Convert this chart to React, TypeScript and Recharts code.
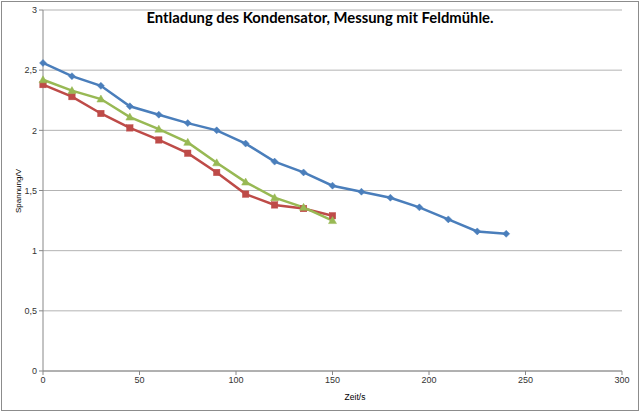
import React from 'react';
import { LineChart, Line, XAxis, YAxis, CartesianGrid } from 'recharts';

const blueTimes = [0, 15, 30, 45, 60, 75, 90, 105, 120, 135, 150, 165, 180, 195, 210, 225, 240];
const blueValues = [2.56, 2.45, 2.37, 2.2, 2.13, 2.06, 2.0, 1.89, 1.74, 1.65, 1.54, 1.49, 1.44, 1.36, 1.26, 1.16, 1.14];
const redTimes = [0, 15, 30, 45, 60, 75, 90, 105, 120, 135, 150];
const redValues = [2.38, 2.28, 2.14, 2.02, 1.92, 1.81, 1.65, 1.47, 1.38, 1.35, 1.29];
const greenTimes = [0, 15, 30, 45, 60, 75, 90, 105, 120, 135, 150];
const greenValues = [2.42, 2.33, 2.26, 2.11, 2.01, 1.9, 1.73, 1.57, 1.44, 1.36, 1.25];
const xTicks = [0, 50, 100, 150, 200, 250, 300];
const yTicks = [0, 0.5, 1, 1.5, 2, 2.5, 3];

const titleText = 'Entladung des Kondensator, Messung mit Feldmühle.';
const xLabel = 'Zeit/s';
const yLabel = 'Spannung/V';

const BLUE = '#4A7EBB';
const RED = '#BE4B48';
const GREEN = '#98B954';

const toPoints = (xs: number[], ys: number[]) => xs.map((t, i) => ({ t, v: ys[i] }));
const blueData = toPoints(blueTimes, blueValues);
const redData = toPoints(redTimes, redValues);
const greenData = toPoints(greenTimes, greenValues);

const fmt = (v: number) => String(v).replace('.', ',');

const Diamond = (props: any) => {
  const { cx, cy } = props;
  if (cx == null || cy == null) return null;
  const r = 3.5;
  return <path d={`M${cx},${cy - r}L${cx + r},${cy}L${cx},${cy + r}L${cx - r},${cy}Z`} fill={BLUE} stroke={BLUE} strokeWidth={0.5} />;
};
const Square = (props: any) => {
  const { cx, cy } = props;
  if (cx == null || cy == null) return null;
  const r = 3.2;
  return <rect x={cx - r} y={cy - r} width={2 * r} height={2 * r} fill={RED} stroke={RED} strokeWidth={0.5} />;
};
const Triangle = (props: any) => {
  const { cx, cy } = props;
  if (cx == null || cy == null) return null;
  const r = 4;
  return <path d={`M${cx},${cy - r}L${cx + r},${cy + r * 0.75}L${cx - r},${cy + r * 0.75}Z`} fill={GREEN} stroke={GREEN} strokeWidth={0.5} />;
};

const tickStyle = { fontSize: 9, fill: '#333', fontFamily: 'Liberation Sans, Arial, sans-serif' };

export default function App() {
  return (
    <div style={{ position: 'absolute', left: 0, top: 0, width: 640, height: 414, background: '#fff' }}>
      <LineChart
        width={640}
        height={414}
        margin={{ top: 10, right: 18, bottom: 12, left: 0 }}
      >
        <CartesianGrid horizontal vertical={false} stroke="#B3B3B3" strokeWidth={1} />
        <XAxis
          dataKey="t"
          type="number"
          domain={[0, 300]}
          ticks={xTicks}
          allowDuplicatedCategory={false}
          stroke="#888"
          tickLine={{ stroke: '#888' }}
          tickSize={4}
          tick={tickStyle}
          height={31}
        />
        <YAxis
          dataKey="v"
          type="number"
          domain={[0, 3]}
          ticks={yTicks}
          tickFormatter={fmt}
          stroke="#888"
          tickLine={{ stroke: '#888' }}
          tickSize={4}
          tick={tickStyle}
          width={43}
        />
        <Line data={blueData} dataKey="v" stroke={BLUE} strokeWidth={2.5} dot={<Diamond />} activeDot={false} isAnimationActive={false} />
        <Line data={redData} dataKey="v" stroke={RED} strokeWidth={2.5} dot={<Square />} activeDot={false} isAnimationActive={false} />
        <Line data={greenData} dataKey="v" stroke={GREEN} strokeWidth={2.5} dot={<Triangle />} activeDot={false} isAnimationActive={false} />
      </LineChart>
      <svg width={640} height={414} style={{ position: 'absolute', left: 0, top: 0, pointerEvents: 'none' }}>
        <rect x={1.5} y={1.5} width={637} height={409} fill="none" stroke="#8C8C8C" strokeWidth={1} />
        <text x={320} y={23} textAnchor="middle" fontFamily="Lato, sans-serif" fontWeight="bold" fontSize={14.8} fill="#000">{titleText}</text>
        <text x={355} y={400} textAnchor="middle" fontFamily="Liberation Sans, Arial, sans-serif" fontSize={8.5} fill="#000">{xLabel}</text>
        <text x={0} y={0} transform="translate(21,191) rotate(-90)" textAnchor="middle" fontFamily="Liberation Sans, Arial, sans-serif" fontSize={8} fill="#000">{yLabel}</text>
      </svg>
    </div>
  );
}
